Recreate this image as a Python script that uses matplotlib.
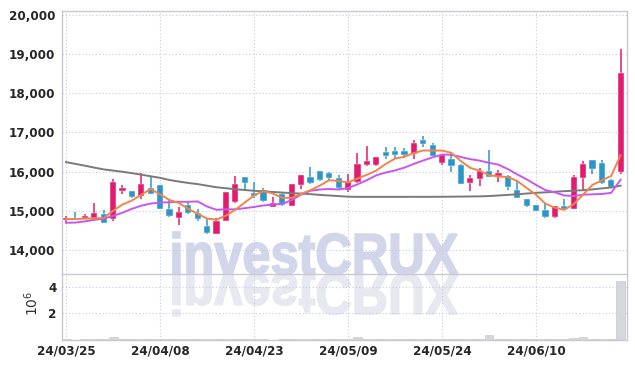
import matplotlib
matplotlib.use("Agg")
import matplotlib.pyplot as plt
import numpy as np
from matplotlib.patches import PathPatch
from matplotlib.textpath import TextPath
from matplotlib.font_manager import FontProperties
from matplotlib.transforms import Affine2D, IdentityTransform

# ---------------- data ----------------
dates = ["24/03/25", "24/03/26", "24/03/27", "24/03/28", "24/03/29",
         "24/04/01", "24/04/02", "24/04/03", "24/04/04", "24/04/05",
         "24/04/08", "24/04/09", "24/04/11", "24/04/12", "24/04/15",
         "24/04/16", "24/04/17", "24/04/18", "24/04/19", "24/04/22",
         "24/04/23", "24/04/24", "24/04/25", "24/04/26", "24/04/29",
         "24/04/30", "24/05/02", "24/05/03", "24/05/07", "24/05/08",
         "24/05/09", "24/05/10", "24/05/13", "24/05/14", "24/05/16",
         "24/05/17", "24/05/20", "24/05/21", "24/05/22", "24/05/23",
         "24/05/24", "24/05/27", "24/05/28", "24/05/29", "24/05/30",
         "24/05/31", "24/06/03", "24/06/04", "24/06/05", "24/06/07",
         "24/06/10", "24/06/11", "24/06/12", "24/06/13", "24/06/14",
         "24/06/17", "24/06/18", "24/06/19", "24/06/20", "24/06/21"]

opens = [14760, 14800, 14820, 14820, 14910, 14780, 15510, 15500, 15380, 15580,
         15650, 15040, 14820, 15150, 14935, 14610, 14410, 14740, 15230, 15860,
         15460, 15530, 15100, 15425, 15125, 15655, 15860, 16010, 15975, 15830,
         15530, 15740, 16170, 16165, 16510, 16535, 16535, 16435, 16800, 16670,
         16220, 16315, 16165, 15700, 15815, 16010, 15890, 15880, 15520, 15290,
         15150, 15010, 14830, 15110, 15050, 15825, 16290, 16215, 15780, 15990]
highs = [14865, 14960, 14910, 15190, 15020, 15800, 15650, 15510, 15970, 15850,
         15660, 15270, 15090, 15250, 15045, 14820, 14820, 15480, 15890, 15870,
         15740, 15590, 15355, 15450, 15690, 15910, 16105, 16010, 15990, 15910,
         15925, 16460, 16645, 16370, 16630, 16630, 16600, 16800, 16910, 16740,
         16430, 16475, 16180, 15910, 16095, 16545, 16030, 15900, 15755, 15300,
         15160, 15190, 15130, 15290, 15910, 16265, 16300, 16290, 15820, 19110]
lows = [14720, 14775, 14780, 14790, 14680, 14740, 15440, 15320, 15290, 15430,
        15040, 14850, 14650, 14910, 14745, 14400, 14400, 14730, 15200, 15510,
        15330, 15230, 15090, 15130, 15120, 15545, 15680, 15755, 15760, 15560,
        15475, 15710, 16145, 16150, 16320, 16340, 16350, 16310, 16630, 16385,
        16165, 16000, 15680, 15500, 15630, 15860, 15740, 15525, 15320, 15085,
        14990, 14820, 14820, 15040, 15040, 15525, 15950, 15690, 15600, 15950]
closes = [14815, 14780, 14860, 14940, 14690, 15730, 15580, 15360, 15680, 15440,
          15050, 14875, 14970, 14935, 14790, 14440, 14740, 15475, 15680, 15700,
          15375, 15255, 15190, 15140, 15680, 15900, 15705, 15790, 15825, 15570,
          15730, 16195, 16265, 16365, 16400, 16425, 16430, 16740, 16690, 16390,
          16420, 16145, 15690, 15825, 16020, 15865, 15975, 15610, 15330, 15135,
          15000, 14830, 15110, 15045, 15860, 16205, 16070, 15700, 15610, 18510]
volumes_m = [0.04, 0.03, 0.05, 0.11, 0.05, 0.25, 0.11, 0.05, 0.11, 0.05,
             0.06, 0.11, 0.11, 0.05, 0.04, 0.06, 0.06, 0.11, 0.11, 0.05,
             0.04, 0.11, 0.03, 0.05, 0.06, 0.11, 0.11, 0.05, 0.11, 0.05,
             0.11, 0.20, 0.11, 0.05, 0.11, 0.11, 0.06, 0.11, 0.11, 0.11,
             0.11, 0.11, 0.11, 0.11, 0.11, 0.37, 0.11, 0.11, 0.11, 0.11,
             0.05, 0.11, 0.05, 0.11, 0.18, 0.20, 0.11, 0.11, 0.05, 4.45]
ma5 = [14790, 14790, 14800, 14810, 14814, 15000, 15160, 15260, 15408, 15554,
       15418, 15277, 15199, 15050, 14924, 14802, 14775, 14876, 15025, 15207,
       15394, 15497, 15440, 15332, 15328, 15433, 15523, 15643, 15780, 15758,
       15724, 15822, 15917, 16025, 16191, 16330, 16377, 16472, 16537, 16535,
       16534, 16477, 16267, 16094, 16020, 15909, 15875, 15859, 15760, 15583,
       15410, 15181, 15081, 15024, 15169, 15410, 15658, 15776, 15889, 16419]
ma10 = [14695, 14700, 14730, 14770, 14800, 14870, 14950, 15050, 15130, 15184,
        15209, 15219, 15230, 15229, 15239, 15110, 15026, 15038, 15038, 15066,
        15098, 15136, 15158, 15179, 15268, 15414, 15510, 15542, 15556, 15543,
        15579, 15673, 15780, 15903, 15975, 16027, 16100, 16195, 16281, 16363,
        16432, 16427, 16370, 16316, 16278, 16222, 16176, 16063, 15927, 15802,
        15660, 15528, 15470, 15392, 15376, 15410, 15420, 15429, 15457, 15794]
ma60 = [16240, 16195, 16150, 16100, 16055, 16025, 15995, 15960, 15920, 15880,
        15840, 15785, 15745, 15710, 15680, 15640, 15600, 15575, 15550, 15530,
        15510, 15495, 15480, 15465, 15450, 15440, 15425, 15405, 15390, 15375,
        15360, 15355, 15355, 15355, 15355, 15355, 15355, 15356, 15356, 15356,
        15358, 15360, 15362, 15365, 15368, 15375, 15390, 15405, 15420, 15440,
        15458, 15470, 15485, 15500, 15512, 15525, 15545, 15570, 15595, 15640]

price_ticks = [14000, 15000, 16000, 17000, 18000, 19000, 20000]
vol_ticks = [2, 4]
date_tick_idx = [0, 10, 20, 30, 40, 50]

# ---------------- style ----------------
UP = "#e31b6d"
DOWN = "#2d96c8"
GRID = "#c6cadf"
SPINE = "#c9c9d4"
TXT = "#262626"
tick_fp = FontProperties(family="DejaVu Sans", weight="bold", stretch="condensed", size=9.5)

W, H = 635, 368
fig = plt.figure(figsize=(W / 100, H / 100), dpi=100)

def fx(px):
    return px / W

def fy(py):
    return 1 - py / H

L, R = 62, 627
ax = fig.add_axes([fx(L), fy(274), fx(R - L), (274 - 11) / H])
axv = fig.add_axes([fx(L), fy(340), fx(R - L), (340 - 274) / H], sharex=ax)
for a in (ax, axv):
    a.set_facecolor("none")

# ---------------- watermark ----------------
fp = FontProperties(family="Liberation Sans", weight="bold")
tp = TextPath((0, 0), "investCRUX", size=100, prop=fp)
ext = tp.get_extents()
x0, x1 = 173, 458
cap = 42
sx = (x1 - x0) / ext.width
sy = cap / ext.y1
base = H - 274
t_up = Affine2D().translate(-ext.x0, 0).scale(sx, sy).translate(x0, base)
t_dn = Affine2D().translate(-ext.x0, 0).scale(sx, -sy).translate(x0, base)
fig.patches.append(PathPatch(t_dn.transform_path(tp), transform=IdentityTransform(),
                             facecolor="#e7e8f0", edgecolor="#e7e8f0", linewidth=1.2,
                             zorder=-2, figure=fig))
fig.patches.append(PathPatch(t_up.transform_path(tp), transform=IdentityTransform(),
                             facecolor="#d2d6ea", edgecolor="#d2d6ea", linewidth=1.2,
                             zorder=-2, figure=fig))

# ---------------- candles ----------------
x = np.arange(len(closes))
o = np.array(opens, float)
c = np.array(closes, float)
hi = np.array(highs, float)
lo = np.array(lows, float)
up = c >= o
cols = np.where(up, UP, DOWN)
bottom = np.minimum(o, c)
height = np.maximum(np.abs(c - o), 30)

ax.vlines(x, lo, hi, colors=cols, linewidth=1.1, zorder=2)
ax.bar(x, height, bottom=bottom, width=0.66, color=cols, edgecolor="white",
       linewidth=0.3, zorder=3)

ax.plot(x, ma60, color="#7a7a7a", linewidth=1.4, zorder=4)
ax.plot(x, ma10, color="#c957ef", linewidth=1.4, zorder=4)
ax.plot(x, ma5, color="#f0844a", linewidth=1.4, zorder=5)

ax.set_xlim(-0.43, 59.68)
ax.set_ylim(13390, 20090)
ax.set_yticks(price_ticks)
ax.set_yticklabels([f"{v:,}" for v in price_ticks])
ax.grid(True, which="major", color=GRID, linestyle=(0, (1, 2)), linewidth=0.8)
ax.set_axisbelow(True)
ax.tick_params(axis="y", length=0, pad=5, labelcolor=TXT)
ax.tick_params(axis="x", length=0, labelbottom=False)
for lab in ax.get_yticklabels():
    lab.set_fontproperties(tick_fp)

# ---------------- volume ----------------
axv.bar(x, volumes_m, width=0.95, color="#d6d6de", edgecolor="#c9c9d3",
        linewidth=0.5, zorder=2)
axv.set_ylim(0, 4.95)
axv.set_yticks(vol_ticks)
axv.set_yticklabels([str(v) for v in vol_ticks])
axv.set_xticks(date_tick_idx)
axv.set_xticklabels([dates[i] for i in date_tick_idx])
axv.grid(True, color=GRID, linestyle=(0, (1, 2)), linewidth=0.8)
axv.set_axisbelow(True)
axv.tick_params(axis="y", length=0, pad=4, labelcolor=TXT)
axv.tick_params(axis="x", length=0, pad=3, labelcolor=TXT)
for lab in axv.get_yticklabels() + axv.get_xticklabels():
    lab.set_fontproperties(tick_fp)

fig.text(fx(32), fy(303), r"$10^{6}$", rotation=90, ha="center", va="center",
         fontsize=10, color="#333333")

for a in (ax, axv):
    for s in a.spines.values():
        s.set_color(SPINE)
        s.set_linewidth(1.0)
axv.spines["top"].set_visible(False)

fig.savefig("out.png", dpi=100)
